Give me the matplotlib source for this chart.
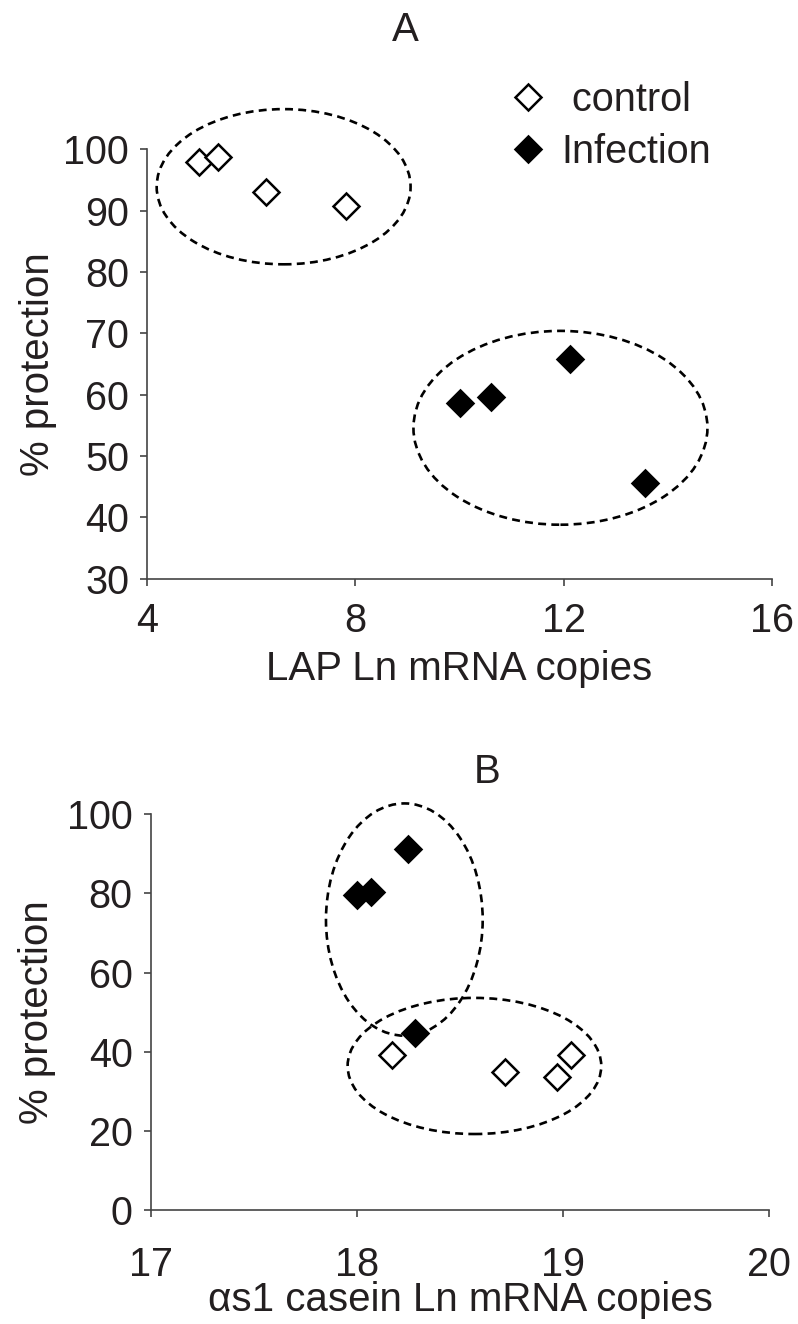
# % protection vs Ln mRNA copies, two panels (A: LAP, B: as1 casein)
import numpy as np
import matplotlib
matplotlib.use('Agg')
import matplotlib.pyplot as plt
from matplotlib.patches import Ellipse

plt.rcParams['font.family'] = ['Liberation Sans', 'DejaVu Sans']

# panel A data
ctrl_a_x = [5.0, 5.35, 6.29, 7.82]
ctrl_a_y = [97.9, 98.8, 93.1, 90.8]
inf_a_x = [10.0, 10.6, 12.13, 13.57]
inf_a_y = [58.7, 59.6, 65.8, 45.6]

# panel B data
ctrl_b_x = [18.17, 18.72, 18.97, 19.04]
ctrl_b_y = [39.2, 35.0, 33.7, 39.2]
inf_b_x = [18.0, 18.07, 18.25, 18.28]
inf_b_y = [79.6, 80.3, 91.3, 44.7]

# grouping ellipses: (cx, cy, width, height) in data units
ell_a = [(6.62, 93.9, 4.88, 25.3), (11.94, 54.6, 5.65, 31.6)]
ell_b = [(18.23, 73.4, 0.76, 58.7), (18.57, 36.4, 1.23, 34.4)]

W, H = 798., 1324.
fig = plt.figure(figsize=(W / 100, H / 100), dpi=100)

def px_axes(l, t, r, b):
    return fig.add_axes([l / W, 1 - b / H, (r - l) / W, (b - t) / H])

def style(ax):
    for s in ['top', 'right']:
        ax.spines[s].set_visible(False)
    for s in ['left', 'bottom']:
        ax.spines[s].set_color('#444444')
        ax.spines[s].set_linewidth(1.2)
    ax.tick_params(direction='out', length=5, width=1.2, color='#444444',
                   labelsize=28.5, labelcolor='#231f20')

def markers(ax, cx, cy, ix, iy):
    ax.plot(cx, cy, 'D', ms=13, mfc='white', mec='black', mew=1.8,
            ls='none', label=' control', clip_on=False, zorder=3)
    ax.plot(ix, iy, 'D', ms=13, mfc='black', mec='black', mew=1.8,
            ls='none', label='Infection', clip_on=False, zorder=3)

def ellipses(ax, ells):
    for cx, cy, w, h in ells:
        ax.add_patch(Ellipse((cx, cy), w, h, fill=False, ec='black', lw=1.9,
                             ls=(0, (3.0, 2.0)), clip_on=False))

# ---- A
axA = px_axes(147.3, 149.3, 771.7, 578.7)
style(axA)
ellipses(axA, ell_a)
markers(axA, ctrl_a_x, ctrl_a_y, inf_a_x, inf_a_y)
axA.set_xlim(4, 16)
axA.set_ylim(30, 100)
axA.set_xticks([4, 8, 12, 16])
axA.set_yticks(np.arange(30, 101, 10))
axA.tick_params(axis='x', pad=12)
axA.tick_params(axis='y', pad=8)
axA.set_xlabel('LAP Ln mRNA copies', fontsize=29, color='#231f20', labelpad=7)
axA.set_ylabel('% protection', fontsize=29, color='#231f20', labelpad=5)
axA.legend(loc='upper left', bbox_to_anchor=(508 / W, 1 - 81 / H),
           bbox_transform=fig.transFigure, frameon=False, fontsize=28.5,
           numpoints=1, handlelength=1.0, handletextpad=0.35,
           labelspacing=0.35, borderpad=0, borderaxespad=0,
           labelcolor='#231f20')

# ---- B
axB = px_axes(150.7, 814.3, 769.3, 1210)
style(axB)
ellipses(axB, ell_b)
markers(axB, ctrl_b_x, ctrl_b_y, inf_b_x, inf_b_y)
axB.set_xlim(17, 20)
axB.set_ylim(0, 100)
axB.set_xticks([17, 18, 19, 20])
axB.set_yticks(np.arange(0, 101, 20))
axB.tick_params(axis='x', pad=21)
axB.tick_params(axis='y', pad=8)
axB.set_xlabel('\u03b1s1 casein Ln mRNA copies', fontsize=29, color='#231f20', labelpad=-2)
axB.set_ylabel('% protection', fontsize=29, color='#231f20', labelpad=8)

fig.text(405 / W, 1 - 30 / H, 'A', ha='center', va='center', fontsize=29, color='#231f20')
fig.text(487 / W, 1 - 772 / H, 'B', ha='center', va='center', fontsize=29, color='#231f20')

fig.savefig('out.png', dpi=100)
